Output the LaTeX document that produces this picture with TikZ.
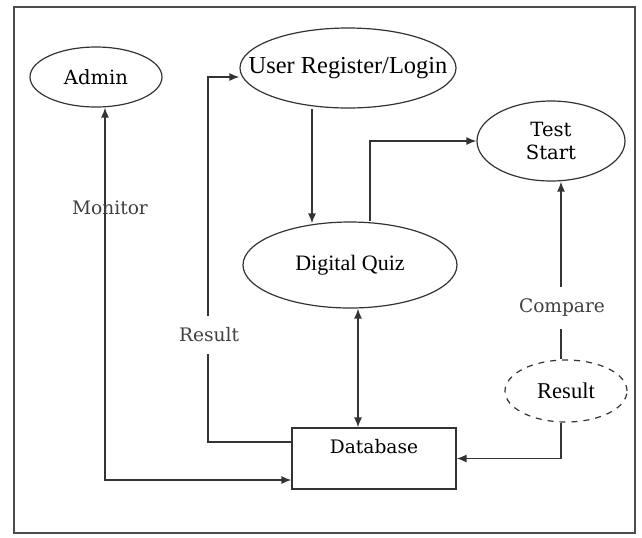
\documentclass[tikz,border=0pt]{standalone}
\usepackage{fontspec}
\setmainfont{Liberation Serif}
\newfontfamily\lblfont{DejaVu Serif}
\usetikzlibrary{calc,shapes.geometric,arrows.meta}

\begin{document}
\begin{tikzpicture}[x=0.5pt,y=-0.5pt,>={Latex[length=5pt,width=4pt]},
    proc/.style={ellipse,draw=black!80,line width=0.6pt,inner sep=0pt},
    flow/.style={draw=black!80,line width=0.7pt},
    lbl/.style={text=black!75,font=\lblfont\fontsize{9.3}{11}\selectfont}]

    % 画布与外框
    \useasboundingbox (0,0) rectangle (642,537);
    \draw[black!70,line width=0.8pt] (14,7) rectangle (635,533);

    % 各个处理单元
    \node[proc,minimum width=66pt,minimum height=30pt,font=\lblfont\fontsize{9.8}{12}\selectfont] (admin) at (96,77) {Admin};
    \node[proc,inner xsep=-12pt,minimum width=108pt,minimum height=40pt,font=\fontsize{12.2}{14}\selectfont] (user) at (348,68) {User Register/Login};
    \node[proc,minimum width=74pt,minimum height=40pt,align=center,font=\lblfont\fontsize{9.8}{11.5}\selectfont] (test) at (551,141) {Test\\Start};
    \node[proc,minimum width=107pt,minimum height=43pt,font=\fontsize{11}{13}\selectfont] (quiz) at (350,265) {Digital Quiz};
    \node[proc,dashed,minimum width=61pt,minimum height=31pt,font=\fontsize{11.3}{13}\selectfont] (res) at (566,391) {Result};

    % 数据库
    \node[rectangle,draw=black!80,line width=0.6pt,inner sep=0pt,minimum width=82pt,minimum height=30.5pt,
          text height=8pt,text depth=13pt,font=\lblfont\fontsize{9.3}{11}\selectfont] (db) at (374,458.5) {Database};

    % 折线的拐点
    \coordinate (mon) at (105,480);
    \coordinate (rb) at (208,442);
    \coordinate (rt) at (208,77);
    \coordinate (uq) at (312,0);
    \coordinate (rc) at (561,0);

    % 连接线
    \draw[flow,<->] (admin.south -| mon) -- (mon) -- (mon -| db.west);
    \draw[flow,->] (rb -| db.west) -- (rb) -- (rt) -- (rt -| user.west);
    \draw[flow,->] (uq |- user.south) -- ($(uq |- quiz.north)+(0,2)$);
    \draw[flow,->] ([xshift=10pt]quiz.north) |- (test.west);
    \draw[flow,<->] ([xshift=4pt]quiz.south) -- ([xshift=4pt]quiz.south |- db.north);
    \draw[flow,->] (rc |- res.north) -- (rc |- test.south);
    \draw[flow,->] (rc |- res.south) |- (db.east);

    % 连接线上的标注
    \node[lbl] (monlbl) at (110,208) {Monitor};
    \node[lbl,fill=white,inner ysep=6pt] (reslbl) at (209,335) {Result};
    \node[lbl,fill=white,inner ysep=6pt] (cmplbl) at (562,308) {Compare};

\end{tikzpicture}
\end{document}
